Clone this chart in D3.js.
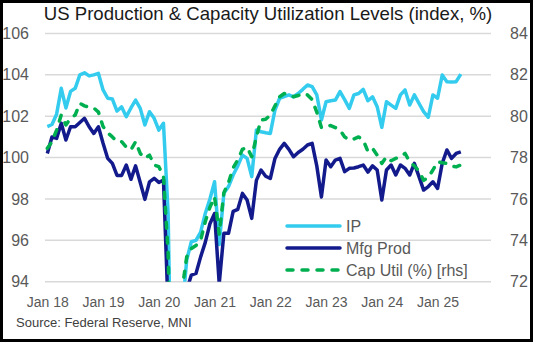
<!DOCTYPE html>
<html lang="en">
<head>
    <meta charset="UTF-8">
    <title>US Production & Capacity Utilization Levels</title>
    <script src="https://d3js.org/d3.v7.min.js"></script>
    <style>
        body {
            margin: 0;
            background: white;
            font-family: "Liberation Sans", Arial, sans-serif;
        }
        .axis text {
            fill: #595959;
            font-family: "Liberation Sans", Arial, sans-serif;
        }
        .axis path, .axis line {
            display: none;
        }
        .grid line {
            stroke: #d9d9d9;
            stroke-width: 1.5;
        }
        .legend text {
            fill: #595959;
            font-size: 16px;
        }
    </style>
</head>
<body>
    <div id="chart"></div>

    <script>
        // monthly data Jan 2018 - Jun 2025
        const ip = [
            101.5, 101.6, 102.1, 103.35, 102.4, 103.2, 103.35, 104.0, 104.1, 103.95, 104.0, 104.07,
            103.27, 102.87, 102.83, 102.25, 102.45, 101.98, 102.4, 102.78, 102.38, 101.58, 102.22, 101.9,
            101.33, 101.66, 97.3, 84.5, 86.3, 92.5, 95.05, 95.93, 96.0, 96.4, 97.3, 98.0,
            98.83, 95.8, 98.27, 98.6, 99.16, 99.6, 100.12, 99.96, 99.08, 101.33, 101.25, 101.2,
            101.17, 102.3, 102.87, 102.95, 103.03, 102.94, 103.1, 103.3, 103.51, 103.43, 103.03, 101.82,
            102.7, 102.75, 102.78, 103.19, 102.8, 102.38, 103.03, 103.1, 103.3, 102.75, 102.94, 102.46,
            101.46, 102.7, 102.54, 102.38, 103.03, 103.27, 102.54, 103.03, 102.62, 102.22, 101.95, 103.03,
            102.87, 103.99, 103.67, 103.65, 103.67, 104.04
        ];
        const mfg = [
            100.2, 101.0, 100.93, 101.66, 100.85, 101.49, 101.49, 101.7, 101.9, 101.49, 101.17, 101.49,
            100.69, 99.96, 99.72, 99.14, 99.14, 99.64, 98.95, 99.6, 98.8, 97.98, 98.83, 99.0,
            98.8, 98.92, 92.7, 80.5, 81.5, 88.0, 93.6, 94.32, 94.4, 95.2, 95.9, 96.8,
            97.3, 93.9, 96.34, 96.34, 97.4, 97.5, 98.27, 97.95, 97.06, 98.9, 99.4, 99.1,
            98.99, 99.96, 100.4, 100.69, 100.4, 100.04, 100.25, 100.4, 100.61, 100.69, 99.6, 98.1,
            99.88, 99.56, 99.88, 99.96, 99.32, 99.48, 99.5, 99.56, 99.64, 99.3, 99.6, 99.4,
            97.95, 99.4, 99.64, 99.16, 99.64, 99.48, 99.16, 99.72, 99.08, 98.43, 98.6, 98.83,
            98.51, 99.72, 100.37, 99.96, 100.2, 100.28
        ];
        // capacity utilization, % (right axis)
        const capUtil = [
            78.45, 78.77, 79.33, 80.06, 79.58, 79.9, 80.06, 80.62, 80.5, 80.43, 80.4, 80.2,
            79.5, 79.2, 79.0, 78.77, 78.77, 78.5, 78.37, 78.77, 78.2, 77.96, 78.12, 77.64,
            77.56, 77.1, 73.4, 64.5, 65.8, 71.6, 73.2, 73.6, 73.75, 74.0, 74.9, 75.6,
            76.1, 74.3, 76.3, 76.8, 77.5, 77.9, 78.4, 78.5, 78.04, 79.0, 79.82, 79.85,
            80.06, 80.5, 80.94, 81.1, 81.03, 80.94, 81.0, 81.1, 81.03, 80.8, 80.2, 79.45,
            79.5, 79.55, 79.45, 79.33, 79.0, 78.85, 78.9, 79.0, 78.85, 78.3, 78.45, 78.12,
            77.72, 78.04, 77.85, 77.96, 78.05, 78.2, 77.8, 77.6, 77.35, 76.9, 77.05, 77.4,
            77.8, 77.75, 77.72, 77.6, 77.55, 77.64
        ];

        const xTickMonths = [0, 12, 24, 36, 48, 60, 72, 84];
        const xTickLabels = ["Jan 18", "Jan 19", "Jan 20", "Jan 21", "Jan 22", "Jan 23", "Jan 24", "Jan 25"];
        const leftTicks = [94, 96, 98, 100, 102, 104, 106];
        const rightTicks = [72, 74, 76, 78, 80, 82, 84];

        const seriesNames = ["IP", "Mfg Prod", "Cap Util (%) [rhs]"];
        const seriesColors = ["#33ccee", "#121a8c", "#00b050"];

        const W = 533, H = 342;
        const plot = { left: 45, right: 491, top: 33.5, bottom: 281.7 };

        const svg = d3.select("#chart")
            .append("svg")
            .attr("width", W)
            .attr("height", H);

        svg.append("rect")
            .attr("width", W).attr("height", H)
            .attr("fill", "white")
            .attr("stroke", "black")
            .attr("stroke-width", 6);

        const x = d3.scaleLinear().domain([-0.5, 95.5]).range([plot.left, plot.right]);
        const yL = d3.scaleLinear().domain([94, 106]).range([plot.bottom, plot.top]);
        const yR = d3.scaleLinear().domain([72, 84]).range([plot.bottom, plot.top]);

        // gridlines
        svg.append("g")
            .attr("class", "grid")
            .selectAll("line")
            .data(leftTicks)
            .join("line")
            .attr("x1", plot.left)
            .attr("x2", plot.right)
            .attr("y1", d => yL(d))
            .attr("y2", d => yL(d));

        // axes
        svg.append("g")
            .attr("class", "axis")
            .attr("transform", `translate(${plot.left},0)`)
            .call(d3.axisLeft(yL).tickValues(leftTicks).tickSize(0).tickPadding(16))
            .selectAll("text").style("font-size", "16px");

        svg.append("g")
            .attr("class", "axis")
            .attr("transform", `translate(${plot.right},0)`)
            .call(d3.axisRight(yR).tickValues(rightTicks).tickSize(0).tickPadding(19))
            .selectAll("text").style("font-size", "16px");

        svg.append("g")
            .attr("class", "axis")
            .attr("transform", `translate(0,${plot.bottom})`)
            .call(d3.axisBottom(x).tickValues(xTickMonths)
                .tickFormat((d, i) => xTickLabels[i]).tickSize(0).tickPadding(15))
            .selectAll("text").style("font-size", "14px");

        // clip
        svg.append("clipPath")
            .attr("id", "plotclip")
            .append("rect")
            .attr("x", plot.left - 3)
            .attr("y", plot.top - 3)
            .attr("width", plot.right - plot.left + 6)
            .attr("height", plot.bottom - plot.top + 3);

        const lineL = d3.line().x((d, i) => x(i)).y(d => yL(d));
        const lineR = d3.line().x((d, i) => x(i)).y(d => yR(d));

        const lines = svg.append("g").attr("clip-path", "url(#plotclip)");

        lines.append("path")
            .datum(ip)
            .attr("d", lineL)
            .attr("fill", "none")
            .attr("stroke", seriesColors[0])
            .attr("stroke-width", 3.5)
            .attr("stroke-linejoin", "round");

        lines.append("path")
            .datum(mfg)
            .attr("d", lineL)
            .attr("fill", "none")
            .attr("stroke", seriesColors[1])
            .attr("stroke-width", 3.5)
            .attr("stroke-linejoin", "round");

        lines.append("path")
            .datum(capUtil)
            .attr("d", lineR)
            .attr("fill", "none")
            .attr("stroke", seriesColors[2])
            .attr("stroke-width", 3.5)
            .attr("stroke-linejoin", "round")
            .attr("stroke-linecap", "round")
            .attr("stroke-dasharray", "6,9");

        // legend
        const legend = svg.append("g").attr("class", "legend");
        seriesNames.forEach((name, i) => {
            const ly = 226 + i * 22;
            legend.append("line")
                .attr("x1", 287).attr("x2", 340)
                .attr("y1", ly).attr("y2", ly)
                .attr("stroke", seriesColors[i])
                .attr("stroke-width", 3.5)
                .attr("stroke-linecap", "round")
                .attr("stroke-dasharray", i === 2 ? "6,9" : null);
            legend.append("text")
                .attr("x", 346)
                .attr("y", ly)
                .attr("dy", "0.35em")
                .text(name);
        });

        // title
        svg.append("text")
            .attr("x", (plot.left + plot.right) / 2)
            .attr("y", 20)
            .attr("text-anchor", "middle")
            .style("font-size", "18.6px")
            .style("fill", "#1a1a1a")
            .text("US Production & Capacity Utilization Levels (index, %)");

        // source
        svg.append("text")
            .attr("x", 16)
            .attr("y", 327)
            .style("font-size", "13px")
            .style("fill", "#404040")
            .text("Source: Federal Reserve, MNI");
    </script>
</body>
</html>
